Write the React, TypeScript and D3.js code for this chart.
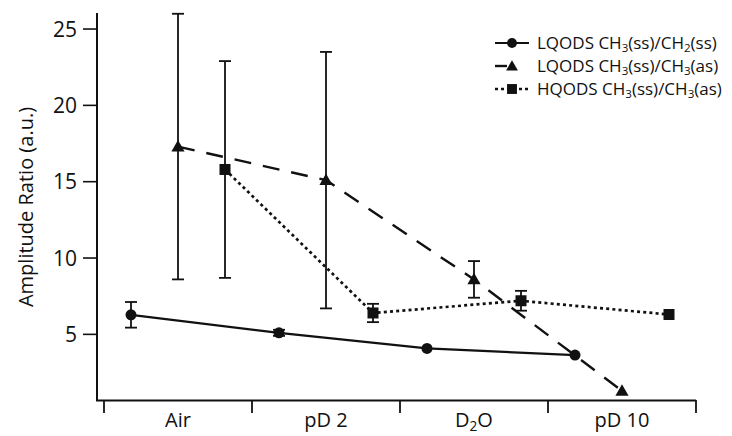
import React from "react";
import * as d3 from "d3";

const categories = ["Air", "pD 2", "D2O", "pD 10"];
const seriesNames = ["LQODS CH3(ss)/CH2(ss)", "LQODS CH3(ss)/CH3(as)", "HQODS CH3(ss)/CH3(as)"];
const lqCH2Values = [6.28, 5.1, 4.08, 3.64];
const lqCH2Errors = [0.84, 0.2, 0, 0];
const lqCH3Values = [17.3, 15.1, 8.6, 1.3];
const lqCH3Errors = [8.7, 8.4, 1.2, 0];
const hqCH3Values = [15.8, 6.4, 7.2, 6.3];
const hqCH3Errors = [7.1, 0.6, 0.65, 0];
const yTicks = [5, 10, 15, 20, 25];

const W = 732;
const H = 436;

const x = d3.scaleBand<string>().domain(categories).range([104, 696]).padding(0);
const offset = d3.scalePoint<string>().domain(seriesNames).range([-47, 47]);
const y = d3.scaleLinear().domain([0.7, 26.05]).range([400, 13]);

const FONT = "'Open Sans', 'Noto Sans', sans-serif";
const INK = "#111";

type Series = {
  name: string;
  values: number[];
  errors: number[];
  marker: "circle" | "triangle" | "square";
  dash: string | undefined;
  width: number;
};

const series: Series[] = [
  { name: seriesNames[0], values: lqCH2Values, errors: lqCH2Errors, marker: "circle", dash: undefined, width: 2.2 },
  { name: seriesNames[1], values: lqCH3Values, errors: lqCH3Errors, marker: "triangle", dash: "17,12", width: 2.4 },
  { name: seriesNames[2], values: hqCH3Values, errors: hqCH3Errors, marker: "square", dash: "3,3.2", width: 2.7 },
];

function Marker({ kind, cx, cy, s = 1 }: { kind: string; cx: number; cy: number; s?: number }) {
  if (kind === "circle") return <circle cx={cx} cy={cy} r={5.5 * s} fill={INK} />;
  if (kind === "square")
    return <rect x={cx - 5.5 * s} y={cy - 5.5 * s} width={11 * s} height={11 * s} fill={INK} />;
  const sym = d3.symbol().type(d3.symbolTriangle).size(75 * s * s)();
  return <path d={sym || ""} transform={`translate(${cx},${cy + 1})`} fill={INK} />;
}

function Label({
  name,
  xPos,
  yPos,
  size,
  anchor = "start",
}: {
  name: string;
  xPos: number;
  yPos: number;
  size: number;
  anchor?: string;
}) {
  // render digits following "CH"/"D" as subscripts
  const parts: { t: string; sub: boolean }[] = [];
  const re = /(CH|D)(\d)/g;
  let last = 0;
  let m: RegExpExecArray | null;
  while ((m = re.exec(name)) !== null) {
    parts.push({ t: name.slice(last, m.index + m[1].length), sub: false });
    parts.push({ t: m[2], sub: true });
    last = m.index + m[0].length;
  }
  parts.push({ t: name.slice(last), sub: false });
  const shift = size * 0.2;
  return (
    <text x={xPos} y={yPos} fontFamily={FONT} fontSize={size} fill={INK} textAnchor={anchor}>
      {parts.map((p, i) =>
        p.sub ? (
          <tspan key={i} fontSize={size * 0.68} dy={shift}>
            {p.t}
          </tspan>
        ) : (
          <tspan key={i} dy={i > 0 && parts[i - 1].sub ? -shift : 0}>
            {p.t}
          </tspan>
        )
      )}
    </text>
  );
}

export default function App() {
  const boundaries = [
    ...categories.map((c) => x(c) as number),
    (x(categories[categories.length - 1]) as number) + x.bandwidth(),
  ];
  const px = (c: string, s: string) => (x(c) as number) + x.bandwidth() / 2 + (offset(s) as number);

  return (
    <svg width={W} height={H} style={{ position: "absolute", left: 0, top: 0, background: "#fff" }}>
      <rect width={W} height={H} fill="#fff" />
      {/* axes */}
      <line x1={97} x2={97} y1={13} y2={400} stroke={INK} strokeWidth={2} />
      <line x1={96} x2={696} y1={400.5} y2={400.5} stroke={INK} strokeWidth={2} />
      {yTicks.map((t) => (
        <g key={t}>
          <line x1={83} x2={97} y1={y(t)} y2={y(t)} stroke={INK} strokeWidth={1.6} />
          <text x={77} y={y(t)} dy="0.36em" textAnchor="end" fontFamily={FONT} fontSize={21} fill={INK}>
            {t}
          </text>
        </g>
      ))}
      {boundaries.map((b, i) => (
        <line key={i} x1={b} x2={b} y1={400} y2={413} stroke={INK} strokeWidth={1.8} />
      ))}
      {categories.map((c) => (
        <Label
          key={c}
          name={c}
          xPos={(x(c) as number) + x.bandwidth() / 2}
          yPos={427}
          size={20}
          anchor="middle"
        />
      ))}
      <text
        transform={`translate(26,${207}) rotate(-90)`}
        textAnchor="middle"
        dy="0.36em"
        fontFamily={FONT}
        fontSize={20}
        fill={INK}
      >
        Amplitude Ratio (a.u.)
      </text>

      {/* series */}
      {series.map((s) => {
        const line = d3
          .line<number>()
          .x((_, i) => px(categories[i], s.name))
          .y((v) => y(v));
        return (
          <g key={s.name}>
            <path d={line(s.values) || ""} fill="none" stroke={INK} strokeWidth={s.width} strokeDasharray={s.dash} />
            {s.values.map((v, i) => {
              const e = s.errors[i];
              const cx = px(categories[i], s.name);
              return (
                <g key={i}>
                  {e > 0 && (
                    <g stroke={INK} strokeWidth={1.8}>
                      <line x1={cx} x2={cx} y1={y(v + e)} y2={y(v - e)} />
                      <line x1={cx - 6} x2={cx + 6} y1={y(v + e)} y2={y(v + e)} />
                      <line x1={cx - 6} x2={cx + 6} y1={y(v - e)} y2={y(v - e)} />
                    </g>
                  )}
                  <Marker kind={s.marker} cx={cx} cy={y(v)} />
                </g>
              );
            })}
          </g>
        );
      })}

      {/* legend */}
      {series.map((s, i) => {
        const ly = 43 + i * 23;
        return (
          <g key={s.name}>
            <line
              x1={495}
              x2={529}
              y1={ly}
              y2={ly}
              stroke={INK}
              strokeWidth={s.width}
              strokeDasharray={s.dash ? (s.marker === "triangle" ? "12,30" : "3,3") : undefined}
            />
            <Marker kind={s.marker} cx={512} cy={ly} s={0.9} />
            <Label name={s.name} xPos={537} yPos={ly + 6} size={17} />
          </g>
        );
      })}
    </svg>
  );
}
